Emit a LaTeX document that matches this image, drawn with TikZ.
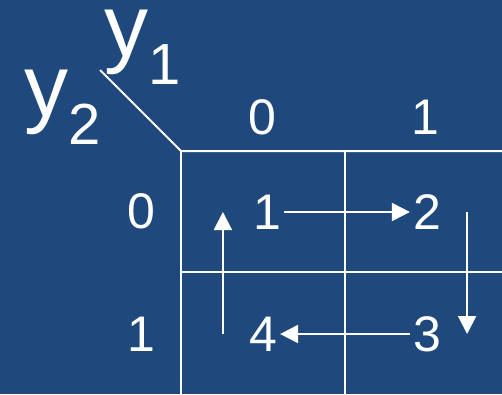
\documentclass[tikz,border=0pt]{standalone}
\usepackage{fontspec}
\setmainfont{Liberation Sans}
\usetikzlibrary{arrows.meta,positioning}
\definecolor{bgblue}{RGB}{31,72,124}
\newcommand{\bigsub}[2]{#1\raisebox{-28pt}{\fontsize{58}{58}\selectfont #2}}
\tikzset{
  num/.style={text=white,inner sep=3pt,font=\fontsize{50}{50}\selectfont},
  varlbl/.style={text=white,inner sep=0pt,anchor=base west,
    font=\fontsize{88}{88}\selectfont},
  gridline/.style={white,line width=2pt},
  flow/.style={-{Triangle[length=18pt,width=18pt]},white,line width=2pt},
}

\begin{document}
\begin{tikzpicture}[x=1pt,y=-1pt]
\fill[bgblue] (0,0) rectangle (502,394);
\useasboundingbox (0,0) rectangle (502,394);
% grid
\coordinate (corner) at (181,151);
\coordinate (diag) at (100,70);
\coordinate (topr) at (502,151);
\coordinate (botl) at (181,394);
\coordinate (midt) at (345,151);
\coordinate (midb) at (345,394);
\coordinate (midl) at (181,272);
\coordinate (midr) at (502,272);
\draw[gridline] (diag) -- (corner) -- (topr);
\draw[gridline] (corner) -- (botl);
\draw[gridline] (midt) -- (midb);
\draw[gridline] (midl) -- (midr);
% variable labels
\node[varlbl] (y1) at (104,56) {\bigsub{y}{1}};
\node[varlbl] (y2) at (24,116) {\bigsub{y}{2}};
% headers
\node[num] (h0) at (262,117) {0};
\node[num] (h1) at (425,117) {1};
\node[num] (r0) at (141,211) {0};
\node[num] (r1) at (141,334) {1};
% cells
\node[num] (c1) at (267,212) {1};
\node[num] (c2) at (427,212) {2};
\node[num] (c3) at (427,334) {3};
\node[num] (c4) at (263,334) {4};
\draw[flow] (c1.east) -- (c2.west);
\draw[flow] ([xshift=23pt]c2.east) -- ([xshift=23pt]c2.east |- c3.east);
\draw[flow] (c3.west) -- (c4.east);
\draw[flow] ([xshift=-23pt]c4.west) -- ([xshift=-23pt]c4.west |- c1.west);
\end{tikzpicture}
\end{document}
